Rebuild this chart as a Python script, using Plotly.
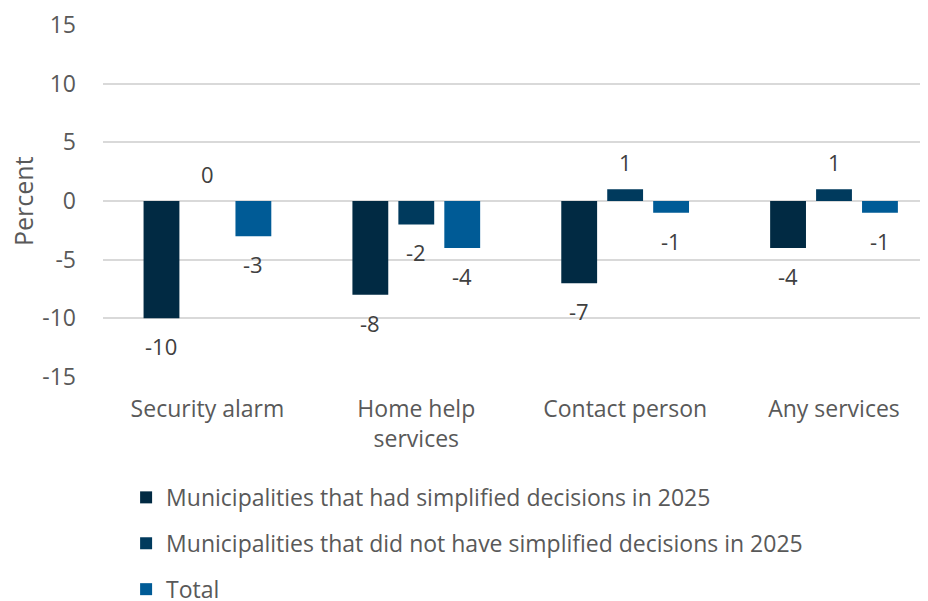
import plotly.graph_objects as go

categories = ["Security alarm", "Home help<br>services", "Contact person", "Any services"]
series_names = [
    "Municipalities that had simplified decisions in 2025",
    "Municipalities that did not have simplified decisions in 2025",
    "Total",
]
had_simplified = [-10, -8, -7, -4]
not_simplified = [0, -2, 1, 1]
total = [-3, -4, -1, -1]
y_ticks = [-15, -10, -5, 0, 5, 10, 15]
y_title = "Percent"

colors = ["#012a43", "#003a5d", "#005b96"]
series = [had_simplified, not_simplified, total]

fig = go.Figure()
for name, vals, col in zip(series_names, series, colors):
    fig.add_trace(go.Bar(
        x=categories, y=vals, name=name, marker_color=col,
        marker_line_width=0, legendgroup=name,
    ))

# value labels
offsets = [-0.22, 0.0, 0.22]
for vals, off in zip(series, offsets):
    for i, v in enumerate(vals):
        fig.add_annotation(
            x=i + off, y=v, xref="x", yref="y", text=str(v), showarrow=False,
            yanchor="middle", yshift=(-28 if v < 0 else 27),
            font=dict(size=22, color="#404040", family="Open Sans"),
        )

# y-axis title
fig.add_annotation(
    x=-0.097, y=0.5, xref="paper", yref="paper", text=y_title, showarrow=False,
    textangle=-90, xanchor="center", yanchor="middle",
    font=dict(size=25, color="#595959", family="Open Sans"),
)

# page body has an 8px margin, so the figure is 920x593 and offset by 8px
fig.update_layout(
    width=920, height=593,
    margin=dict(l=95, r=0, t=17, b=224, autoexpand=False),
    paper_bgcolor="white", plot_bgcolor="white",
    font=dict(family="Open Sans", size=23, color="#595959"),
    barmode="group", bargap=0.34, bargroupgap=0.22,
    showlegend=True,
    legend=dict(
        orientation="v",
        x=0.028, xanchor="left", y=-0.281, yanchor="top",
        font=dict(size=23, color="#595959"), tracegroupgap=13,
        itemwidth=30,
    ),
)
fig.update_xaxes(
    type="category", range=[-0.5, 3.45], showgrid=False, showline=False,
    ticks="", tickfont=dict(size=23, color="#595959"), zeroline=False,
    ticklabelstandoff=16,
)
fig.update_yaxes(
    range=[-15, 15], tickvals=y_ticks, ticktext=[str(t) for t in y_ticks],
    showgrid=True, gridcolor="#d9d9d9", gridwidth=1.5,
    zeroline=True, zerolinecolor="#d9d9d9", zerolinewidth=1.5,
    tickfont=dict(size=23, color="#595959"), ticklabelstandoff=26,
)

fig.write_html("out.html")
